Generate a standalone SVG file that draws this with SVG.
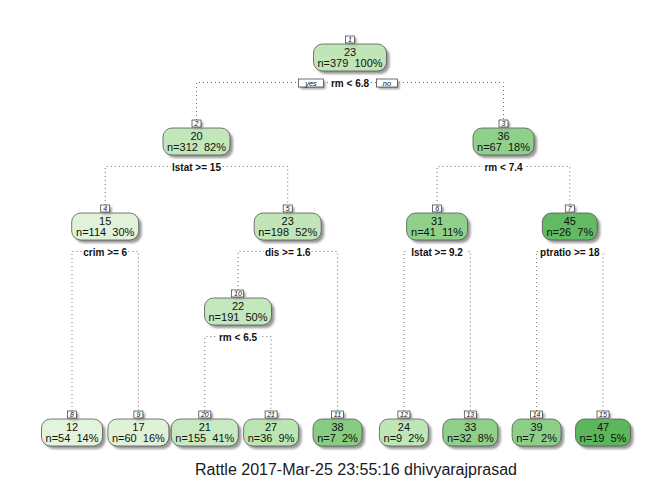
<svg xmlns="http://www.w3.org/2000/svg" width="672" height="480" viewBox="0 0 672 480" xml:space="preserve">
<defs>
<filter id="blur" x="-20%" y="-20%" width="140%" height="140%"><feGaussianBlur stdDeviation="1.3"/></filter>
<style>
.box{stroke:#555;stroke-width:0.8}
.sh{fill:#9a9a9a;filter:url(#blur)}
.lb{fill:#fff;stroke:#333;stroke-width:0.7}
.t{font-family:"Liberation Sans",Arial,sans-serif;font-size:11px;text-anchor:middle;fill:#111;white-space:pre}
.s{font-weight:bold;font-size:10px}
.n{font-size:7px;font-style:italic}
.c{fill:none;stroke:#707070;stroke-width:1;stroke-dasharray:1 3}
.bg{fill:#fff}
</style>
</defs>
<rect width="672" height="480" fill="#fff"/>
<g id="connectors">
<path class="c" d="M196.5,120 V82.5 H503.5 V120"/>
<path class="c" d="M105.2,205 V166.5 H287.7 V205"/>
<path class="c" d="M437.1,205 V166.5 H569.8 V205"/>
<path class="c" d="M72,411 V251.5 H138.4 V411"/>
<path class="c" d="M238,290 V251.5 H337.5 V411"/>
<path class="c" d="M403.9,411 V251.5 H470.3 V411"/>
<path class="c" d="M536.6,411 V251.5 H603 V411"/>
<path class="c" d="M204.8,411 V336.5 H271.1 V411"/>
</g>
<g id="node1">
<rect class="sh" x="316.5" y="47" width="73" height="27" rx="9"/>
<rect class="box" x="313.5" y="44" width="73" height="27" rx="9" fill="#c0e6b8"/>
<rect class="sh" x="347.5" y="38" width="9" height="7"/>
<rect class="lb" x="345.5" y="36" width="9" height="7"/>
<text class="t n" x="350" y="41.8">1</text>
<text class="t" x="350" y="55.5">23</text>
<text class="t" x="350" y="67">n=379  100%</text>
<rect class="bg" x="330" y="77" width="40" height="11"/>
<text class="t s" x="350" y="86.5">rm &lt; 6.8</text>
<rect class="sh" x="300.5" y="81" width="25" height="8"/>
<rect class="lb" x="298.5" y="79" width="25" height="8"/>
<text class="t n" x="311" y="85.5" style="font-size:7.5px">yes</text>
<rect class="sh" x="378.5" y="81" width="21" height="8"/>
<rect class="lb" x="376.5" y="79" width="21" height="8"/>
<text class="t n" x="387" y="85.5" style="font-size:7.5px">no</text>
</g>
<g id="node2">
<rect class="sh" x="166" y="131" width="67" height="27" rx="9"/>
<rect class="box" x="163" y="128" width="67" height="27" rx="9" fill="#c2e7ba"/>
<rect class="sh" x="194" y="122" width="9" height="7"/>
<rect class="lb" x="192" y="120" width="9" height="7"/>
<text class="t n" x="196.5" y="125.8">2</text>
<text class="t" x="196.5" y="139.5">20</text>
<text class="t" x="196.5" y="151">n=312  82%</text>
<rect class="bg" x="171" y="161" width="51" height="11"/>
<text class="t s" x="196.5" y="170.5">lstat &gt;= 15</text>
</g>
<g id="node3">
<rect class="sh" x="476" y="131" width="61" height="27" rx="9"/>
<rect class="box" x="473" y="128" width="61" height="27" rx="9" fill="#8fd08a"/>
<rect class="sh" x="501" y="122" width="9" height="7"/>
<rect class="lb" x="499" y="120" width="9" height="7"/>
<text class="t n" x="503.5" y="125.8">3</text>
<text class="t" x="503.5" y="139.5">36</text>
<text class="t" x="503.5" y="151">n=67  18%</text>
<rect class="bg" x="483" y="161" width="41" height="11"/>
<text class="t s" x="503.5" y="170.5">rm &lt; 7.4</text>
</g>
<g id="node4">
<rect class="sh" x="74.7" y="216" width="67" height="27" rx="9"/>
<rect class="box" x="71.7" y="213" width="67" height="27" rx="9" fill="#e0f3da"/>
<rect class="sh" x="102.7" y="207" width="9" height="7"/>
<rect class="lb" x="100.7" y="205" width="9" height="7"/>
<text class="t n" x="105.2" y="210.8">4</text>
<text class="t" x="105.2" y="224.5">15</text>
<text class="t" x="105.2" y="236">n=114  30%</text>
<rect class="bg" x="82" y="246" width="46" height="11"/>
<text class="t s" x="105.2" y="255.5">crim &gt;= 6</text>
</g>
<g id="node5">
<rect class="sh" x="257.2" y="216" width="67" height="27" rx="9"/>
<rect class="box" x="254.2" y="213" width="67" height="27" rx="9" fill="#c0e6b8"/>
<rect class="sh" x="285.2" y="207" width="9" height="7"/>
<rect class="lb" x="283.2" y="205" width="9" height="7"/>
<text class="t n" x="287.7" y="210.8">5</text>
<text class="t" x="287.7" y="224.5">23</text>
<text class="t" x="287.7" y="236">n=198  52%</text>
<rect class="bg" x="264" y="246" width="47" height="11"/>
<text class="t s" x="287.7" y="255.5">dis &gt;= 1.6</text>
</g>
<g id="node6">
<rect class="sh" x="409.6" y="216" width="61" height="27" rx="9"/>
<rect class="box" x="406.6" y="213" width="61" height="27" rx="9" fill="#8fd08a"/>
<rect class="sh" x="434.6" y="207" width="9" height="7"/>
<rect class="lb" x="432.6" y="205" width="9" height="7"/>
<text class="t n" x="437.1" y="210.8">6</text>
<text class="t" x="437.1" y="224.5">31</text>
<text class="t" x="437.1" y="236">n=41  11%</text>
<rect class="bg" x="408" y="246" width="58" height="11"/>
<text class="t s" x="437.1" y="255.5">lstat &gt;= 9.2</text>
</g>
<g id="node7">
<rect class="sh" x="545.3" y="216" width="55" height="27" rx="9"/>
<rect class="box" x="542.3" y="213" width="55" height="27" rx="9" fill="#62ba62"/>
<rect class="sh" x="567.3" y="207" width="9" height="7"/>
<rect class="lb" x="565.3" y="205" width="9" height="7"/>
<text class="t n" x="569.8" y="210.8">7</text>
<text class="t" x="569.8" y="224.5">45</text>
<text class="t" x="569.8" y="236">n=26  7%</text>
<rect class="bg" x="538" y="246" width="64" height="11"/>
<text class="t s" x="569.8" y="255.5">ptratio &gt;= 18</text>
</g>
<g id="node10">
<rect class="sh" x="207.5" y="301" width="67" height="27" rx="9"/>
<rect class="box" x="204.5" y="298" width="67" height="27" rx="9" fill="#c4e8bd"/>
<rect class="sh" x="233.5" y="292" width="12" height="7"/>
<rect class="lb" x="231.5" y="290" width="12" height="7"/>
<text class="t n" x="238" y="295.8">10</text>
<text class="t" x="238" y="309.5">22</text>
<text class="t" x="238" y="321">n=191  50%</text>
<rect class="bg" x="217" y="331" width="42" height="11"/>
<text class="t s" x="238" y="340.5">rm &lt; 6.5</text>
</g>
<g id="node8">
<rect class="sh" x="44.5" y="422" width="61" height="27" rx="9"/>
<rect class="box" x="41.5" y="419" width="61" height="27" rx="9" fill="#e2f4dc"/>
<rect class="sh" x="69.5" y="413" width="9" height="7"/>
<rect class="lb" x="67.5" y="411" width="9" height="7"/>
<text class="t n" x="72" y="416.8">8</text>
<text class="t" x="72" y="430.5">12</text>
<text class="t" x="72" y="442">n=54  14%</text>
</g>
<g id="node9">
<rect class="sh" x="110.9" y="422" width="61" height="27" rx="9"/>
<rect class="box" x="107.9" y="419" width="61" height="27" rx="9" fill="#dff2d8"/>
<rect class="sh" x="135.9" y="413" width="9" height="7"/>
<rect class="lb" x="133.9" y="411" width="9" height="7"/>
<text class="t n" x="138.4" y="416.8">9</text>
<text class="t" x="138.4" y="430.5">17</text>
<text class="t" x="138.4" y="442">n=60  16%</text>
</g>
<g id="node20">
<rect class="sh" x="174.3" y="422" width="67" height="27" rx="9"/>
<rect class="box" x="171.3" y="419" width="67" height="27" rx="9" fill="#c8e9c1"/>
<rect class="sh" x="200.8" y="413" width="12" height="7"/>
<rect class="lb" x="198.8" y="411" width="12" height="7"/>
<text class="t n" x="204.8" y="416.8">20</text>
<text class="t" x="204.8" y="430.5">21</text>
<text class="t" x="204.8" y="442">n=155  41%</text>
</g>
<g id="node21">
<rect class="sh" x="246.6" y="422" width="55" height="27" rx="9"/>
<rect class="box" x="243.6" y="419" width="55" height="27" rx="9" fill="#bce5b4"/>
<rect class="sh" x="267.1" y="413" width="12" height="7"/>
<rect class="lb" x="265.1" y="411" width="12" height="7"/>
<text class="t n" x="271.1" y="416.8">21</text>
<text class="t" x="271.1" y="430.5">27</text>
<text class="t" x="271.1" y="442">n=36  9%</text>
</g>
<g id="node11">
<rect class="sh" x="316" y="422" width="49" height="27" rx="9"/>
<rect class="box" x="313" y="419" width="49" height="27" rx="9" fill="#86cc81"/>
<rect class="sh" x="333.5" y="413" width="12" height="7"/>
<rect class="lb" x="331.5" y="411" width="12" height="7"/>
<text class="t n" x="337.5" y="416.8">11</text>
<text class="t" x="337.5" y="430.5">38</text>
<text class="t" x="337.5" y="442">n=7  2%</text>
</g>
<g id="node12">
<rect class="sh" x="382.4" y="422" width="49" height="27" rx="9"/>
<rect class="box" x="379.4" y="419" width="49" height="27" rx="9" fill="#bee6b6"/>
<rect class="sh" x="399.9" y="413" width="12" height="7"/>
<rect class="lb" x="397.9" y="411" width="12" height="7"/>
<text class="t n" x="403.9" y="416.8">12</text>
<text class="t" x="403.9" y="430.5">24</text>
<text class="t" x="403.9" y="442">n=9  2%</text>
</g>
<g id="node13">
<rect class="sh" x="445.8" y="422" width="55" height="27" rx="9"/>
<rect class="box" x="442.8" y="419" width="55" height="27" rx="9" fill="#8ecf89"/>
<rect class="sh" x="466.3" y="413" width="12" height="7"/>
<rect class="lb" x="464.3" y="411" width="12" height="7"/>
<text class="t n" x="470.3" y="416.8">13</text>
<text class="t" x="470.3" y="430.5">33</text>
<text class="t" x="470.3" y="442">n=32  8%</text>
</g>
<g id="node14">
<rect class="sh" x="515.1" y="422" width="49" height="27" rx="9"/>
<rect class="box" x="512.1" y="419" width="49" height="27" rx="9" fill="#8dcf88"/>
<rect class="sh" x="532.6" y="413" width="12" height="7"/>
<rect class="lb" x="530.6" y="411" width="12" height="7"/>
<text class="t n" x="536.6" y="416.8">14</text>
<text class="t" x="536.6" y="430.5">39</text>
<text class="t" x="536.6" y="442">n=7  2%</text>
</g>
<g id="node15">
<rect class="sh" x="578.5" y="422" width="55" height="27" rx="9"/>
<rect class="box" x="575.5" y="419" width="55" height="27" rx="9" fill="#5cb65c"/>
<rect class="sh" x="599" y="413" width="12" height="7"/>
<rect class="lb" x="597" y="411" width="12" height="7"/>
<text class="t n" x="603" y="416.8">15</text>
<text class="t" x="603" y="430.5">47</text>
<text class="t" x="603" y="442">n=19  5%</text>
</g>
<text class="t" x="356" y="474.5" style="font-size:16px;fill:#1a1a1a">Rattle 2017-Mar-25 23:55:16 dhivyarajprasad</text>
</svg>
